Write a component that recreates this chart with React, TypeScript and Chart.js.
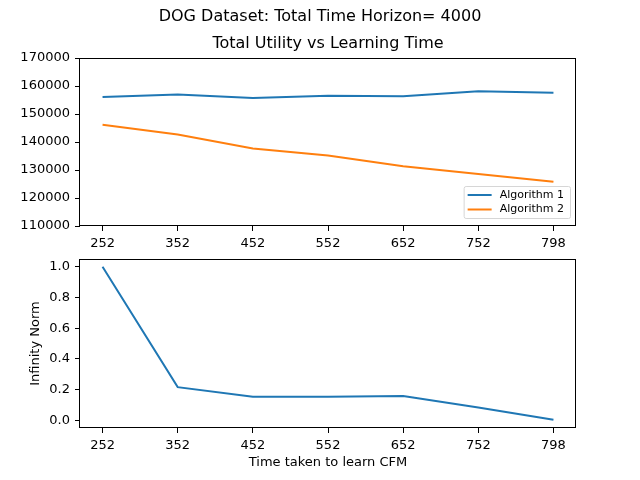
import { useEffect, useRef } from 'react';
import { Chart, registerables } from 'chart.js';

Chart.register(...registerables);

// x categories (learning time)
const xLabels = ['252', '352', '452', '552', '652', '752', '798'];

// top panel: total utility
const algo1 = [156100, 157000, 155700, 156500, 156300, 158100, 157600];
const algo2 = [146200, 142700, 137700, 135200, 131300, 128600, 125800];
const utilTicks = [110000, 120000, 130000, 140000, 150000, 160000, 170000];

// bottom panel: infinity norm
const infNorm = [1.0, 0.216, 0.153, 0.153, 0.159, 0.083, 0.004];
const normTicks = [0, 0.2, 0.4, 0.6, 0.8, 1.0];

const FONT = 'DejaVu Sans';
const BLUE = '#1f77b4';
const ORANGE = '#ff7f0e';

// matplotlib-style box round the plot area
const frame = {
  id: 'frame',
  afterDraw(chart: any) {
    const { ctx, chartArea: a } = chart;
    ctx.save();
    ctx.strokeStyle = '#000';
    ctx.lineWidth = 1;
    const l = Math.round(a.left) - 0.5;
    const t = Math.round(a.top) + 0.5;
    const r = Math.round(a.right) - 0.5;
    const b = Math.round(a.bottom) - 0.5;
    ctx.strokeRect(l, t, r - l, b - t);
    ctx.restore();
  },
};

const titles = {
  id: 'titles',
  afterDraw(chart: any) {
    const { ctx, chartArea: a } = chart;
    ctx.save();
    ctx.fillStyle = '#000';
    ctx.textAlign = 'center';
    ctx.textBaseline = 'middle';
    ctx.font = `16px "${FONT}"`;
    ctx.fillText('DOG Dataset: Total Time Horizon= 4000', 320, 17);
    ctx.fillText('Total Utility vs Learning Time', (a.left + a.right) / 2, 44);
    ctx.restore();
  },
};

const innerLegend = {
  id: 'innerLegend',
  afterDraw(chart: any) {
    const { ctx, chartArea: a } = chart;
    const sets = chart.data.datasets;
    ctx.save();
    ctx.font = `11px "${FONT}"`;
    const tw = Math.max(...sets.map((d: any) => ctx.measureText(d.label).width));
    const w = 4 + 24 + 8 + tw + 6;
    const h = 32;
    const x = a.right - 6 - w;
    const y = a.bottom - 8 - h;
    ctx.fillStyle = 'rgba(255,255,255,0.8)';
    ctx.strokeStyle = '#d6d6d6';
    ctx.lineWidth = 1;
    ctx.beginPath();
    ctx.roundRect(x + 0.5, y + 0.5, w, h, 2);
    ctx.fill();
    ctx.stroke();
    sets.forEach((d: any, i: number) => {
      const ly = y + 9 + i * 14.5;
      ctx.strokeStyle = d.borderColor;
      ctx.lineWidth = 2;
      ctx.beginPath();
      ctx.moveTo(x + 4, ly);
      ctx.lineTo(x + 28, ly);
      ctx.stroke();
      ctx.fillStyle = '#000';
      ctx.textBaseline = 'middle';
      ctx.textAlign = 'left';
      ctx.fillText(d.label, x + 36, ly);
    });
    ctx.restore();
  },
};

function xScale(height: number, title?: string) {
  return {
    type: 'linear' as const,
    min: -0.3,
    max: 6.3,
    afterBuildTicks: (s: any) => { s.ticks = xLabels.map((_, i) => ({ value: i })); },
    afterFit: (s: any) => { s.height = height; s.paddingLeft = 0; s.paddingRight = 0; },
    grid: { drawOnChartArea: false, drawTicks: true, tickLength: 5, color: '#000' },
    border: { display: false },
    ticks: {
      color: '#000', padding: 5, maxRotation: 0, autoSkip: false,
      font: { family: FONT, size: 13 },
      callback: (v: any) => xLabels[v],
    },
    title: title
      ? { display: true, text: title, color: '#000', font: { family: FONT, size: 13 }, padding: { top: 0, bottom: 10 } }
      : { display: false },
  };
}

function yScale(min: number, max: number, tickVals: number[], digits: number, title?: string) {
  return {
    type: 'linear' as const,
    min,
    max,
    afterBuildTicks: (s: any) => { s.ticks = tickVals.map((v) => ({ value: v })); },
    afterFit: (s: any) => { s.width = 80; s.paddingTop = 0; s.paddingBottom = 0; },
    grid: { drawOnChartArea: false, drawTicks: true, tickLength: 5, color: '#000' },
    border: { display: false },
    ticks: {
      color: '#000', padding: 5, autoSkip: false,
      font: { family: FONT, size: 13 },
      callback: (v: any) => Number(v).toFixed(digits),
    },
    title: title
      ? { display: true, text: title, color: '#000', font: { family: FONT, size: 13 }, padding: { top: 28, bottom: 0 } }
      : { display: false },
  };
}

function TopChart() {
  const ref = useRef<HTMLCanvasElement>(null);
  useEffect(() => {
    if (!ref.current) return;
    const chart = new Chart(ref.current, {
      type: 'line',
      data: {
        datasets: [
          { label: 'Algorithm 1', data: algo1.map((y, i) => ({ x: i, y })), borderColor: BLUE, borderWidth: 2, pointRadius: 0, tension: 0 },
          { label: 'Algorithm 2', data: algo2.map((y, i) => ({ x: i, y })), borderColor: ORANGE, borderWidth: 2, pointRadius: 0, tension: 0 },
        ],
      },
      options: {
        responsive: true, maintainAspectRatio: false, animation: false,
        layout: { padding: { top: 58, right: 64, left: 0, bottom: 0 } },
        plugins: { legend: { display: false }, tooltip: { enabled: false } },
        scales: { x: xScale(24), y: yScale(110000, 170000, utilTicks, 0) },
      },
      plugins: [frame, titles, innerLegend],
    });
    return () => { chart.destroy(); };
  }, []);
  return <canvas ref={ref} />;
}

function BottomChart() {
  const ref = useRef<HTMLCanvasElement>(null);
  useEffect(() => {
    if (!ref.current) return;
    const chart = new Chart(ref.current, {
      type: 'line',
      data: {
        datasets: [
          { label: 'Infinity Norm', data: infNorm.map((y, i) => ({ x: i, y })), borderColor: BLUE, borderWidth: 2, pointRadius: 0, tension: 0 },
        ],
      },
      options: {
        responsive: true, maintainAspectRatio: false, animation: false,
        layout: { padding: { top: 9, right: 64, left: 0, bottom: 0 } },
        plugins: { legend: { display: false }, tooltip: { enabled: false } },
        scales: {
          x: xScale(52, 'Time taken to learn CFM'),
          y: yScale(-0.05, 1.05, normTicks, 1, 'Infinity Norm'),
        },
      },
      plugins: [frame],
    });
    return () => { chart.destroy(); };
  }, []);
  return <canvas ref={ref} />;
}

export default function App() {
  return (
    <div style={{ position: 'absolute', left: 0, top: 0, width: 640, height: 480, background: '#fff' }}>
      <div style={{ position: 'absolute', left: 0, top: 0, width: 640, height: 250 }}>
        <TopChart />
      </div>
      <div style={{ position: 'absolute', left: 0, top: 250, width: 640, height: 230 }}>
        <BottomChart />
      </div>
    </div>
  );
}
